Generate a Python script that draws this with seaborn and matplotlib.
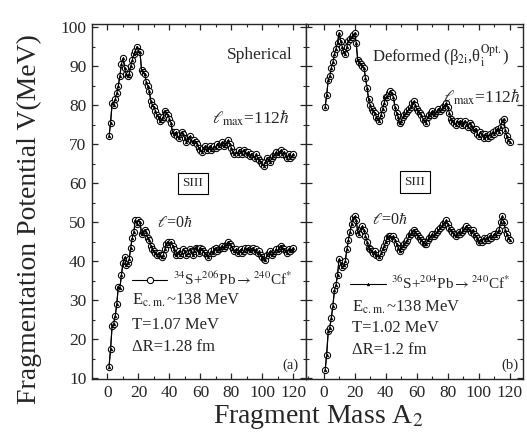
import numpy as np
import matplotlib
matplotlib.use("Agg")
import matplotlib.pyplot as plt
from matplotlib.ticker import MultipleLocator
import seaborn as sns

# fragment mass A2 (every mass from 1 to 120)
mass = np.arange(1, 121)

# spherical, l_max = 112 hbar
sph_lmax = [72, 75.5, 80.5, 80, 81.5, 83, 85, 87.5, 90.5, 92,
            89.5, 88, 87.5, 88, 90, 91.5, 93, 94, 95, 94,
            93.5, 89, 88.5, 88, 86, 85, 83.5, 81, 80, 79.5,
            78.5, 77.5, 77, 76, 76.5, 77, 78.5, 78, 77.5, 76.5,
            75.5, 73, 72.5, 73, 72, 71.5, 72.5, 73, 72.5, 71.5,
            70.5, 71.5, 72, 71, 70.5, 71, 70.5, 70, 69, 68.5,
            68, 69, 69.5, 68.5, 69, 69.5, 68.5, 69, 69.5, 69,
            70, 69.5, 70, 70.5, 69.5, 70, 70.5, 71, 70, 69,
            68, 67.5, 68, 67.5, 68.5, 68, 67.5, 68.5, 68, 67.5,
            68, 67, 67.5, 67, 66.5, 67.5, 66.5, 66, 65.5, 65,
            64.5, 65.5, 66.5, 66, 65.5, 66.5, 67, 67.5, 68, 67.5,
            68, 68.5, 67.5, 68, 67, 66.5, 67.5, 66.5, 67, 67.5]

# spherical, l = 0
sph_l0 = [13, 17.5, 23.5, 24, 26, 29, 33.5, 33, 36.5, 39.5,
          41, 39, 39.5, 40.5, 43.5, 46, 47.5, 50.5, 49.5, 50.5,
          50, 47, 47.5, 48, 47.5, 46, 45.5, 44, 43, 42.5,
          42, 41.5, 42, 41.5, 41, 41.5, 43, 44.5, 45, 44.5,
          45, 44, 43, 41.5, 42, 42.5, 41.5, 42, 43, 42.5,
          41.5, 42, 43, 42.5, 41.5, 42.5, 43.5, 43, 42, 43.5,
          43, 42.5, 42, 41.5, 41, 42, 42.5, 42, 43, 43.5,
          42.5, 43, 43.5, 44, 43.5, 44, 44.5, 45, 44.5, 44,
          43, 42.5, 43, 42, 42.5, 43, 42, 42.5, 43.5, 43,
          43.5, 42.5, 43, 43.5, 42.5, 43, 42, 42.5, 41.5, 41,
          40.5, 40.2, 41.5, 42, 42.5, 41.5, 42, 42.5, 43, 42.5,
          43.5, 44, 43.5, 43, 42.5, 42, 43, 42.5, 43, 43.5]

# deformed, l_max = 112 hbar
def_lmax = [79.5, 82.5, 86.5, 87.5, 89.5, 91, 93, 94.5, 96, 98.5,
            96.5, 95, 93.5, 93, 95, 96.5, 97, 97.5, 98, 98.5,
            96, 91.5, 91, 90.5, 90, 89.5, 87, 84.5, 81.5, 80,
            79, 78.5, 78, 77, 76.5, 76, 77.5, 79, 80.5, 82,
            82, 83, 83.5, 83, 82, 79.5, 78, 77, 75.5, 76,
            77, 77.5, 78, 78.5, 79, 79.5, 80.5, 81, 80, 79,
            78.5, 78, 77.5, 76.5, 76, 75.5, 77, 77.5, 78, 78.5,
            77.5, 78, 78.5, 79, 78.5, 79, 79.5, 80, 80.5, 79.5,
            78, 76.5, 76, 75.5, 75, 76, 75.5, 76, 75, 75.5,
            76, 75, 74.5, 75.5, 75, 74, 73.5, 74, 72.5, 72,
            73, 72.5, 71.5, 72.5, 72, 71.5, 72.5, 72, 73, 72.5,
            73.5, 74, 73, 74.5, 76, 76.5, 73.5, 72, 71, 70.5]

# deformed, l = 0
def_l0 = [12, 16, 22, 23, 25.5, 28.5, 32.5, 34, 36.5, 40.5,
          39.5, 38.5, 39, 40, 43, 45.5, 47.5, 49.5, 51, 51.5,
          50.5, 47.5, 47, 48.5, 49, 48, 46.5, 45, 43.5, 43,
          42.5, 42, 42.5, 41.5, 41.5, 41, 42, 43, 44, 45,
          46, 46.5, 46.5, 46, 46.5, 45.5, 44.5, 43.5, 42.5, 43.5,
          44, 44.5, 45, 45.5, 46.5, 47, 47.5, 48, 47.5, 47,
          46.5, 46, 45.5, 45, 44.5, 44.5, 45.5, 46, 46.5, 47,
          46.5, 47, 47.5, 48, 48.5, 49, 49.5, 50, 50.5, 49.5,
          48.5, 48, 47.5, 47, 46.5, 47, 47.5, 47, 47.5, 48,
          48.5, 49, 48.5, 48, 47.5, 48, 47, 46.5, 46, 45,
          45.5, 45, 46, 45.5, 46, 45.5, 46.5, 46, 46.5, 47,
          46.5, 47.5, 48, 50, 51.5, 50, 48, 47, 46, 45.5]

x_ticks = [0, 20, 40, 60, 80, 100, 120]
y_ticks = [10, 20, 30, 40, 50, 60, 70, 80, 90, 100]

sns.set_style("ticks")
plt.rcParams['font.family'] = ['Liberation Serif', 'DejaVu Serif']
plt.rcParams['mathtext.fontset'] = 'stix'

fig = plt.figure(figsize=(5.27, 4.41), dpi=100)
ax_a = fig.add_axes([92 / 527, 1 - 379 / 441, 214 / 527, 355 / 441])
ax_b = fig.add_axes([306 / 527, 1 - 379 / 441, 217 / 527, 355 / 441])


def draw_curve(ax, values):
    """open circles on a line, small filled triangles on top"""
    sns.lineplot(x=mass, y=values, ax=ax, color='black', lw=0.8,
                 marker='o', markersize=4.5, markerfacecolor='white',
                 markeredgecolor='black', markeredgewidth=0.75)
    circ = ax.lines[-1]
    sns.lineplot(x=mass, y=values, ax=ax, color='black', lw=0.8,
                 marker='^', markersize=2.0, markerfacecolor='black',
                 markeredgecolor='black', markeredgewidth=0.4)
    tri = ax.lines[-1]
    return circ, tri


circ_a, _ = draw_curve(ax_a, sph_lmax)
draw_curve(ax_a, sph_l0)
_, tri_b = draw_curve(ax_b, def_lmax)
draw_curve(ax_b, def_l0)

for ax, xlim in [(ax_a, (-10, 128.2)), (ax_b, (-11.3, 128.4))]:
    ax.set_xlim(*xlim)
    ax.set_ylim(9.8, 100.8)
    ax.set_xticks(x_ticks)
    ax.set_yticks(y_ticks)
    ax.xaxis.set_minor_locator(MultipleLocator(10))
    ax.yaxis.set_minor_locator(MultipleLocator(5))
    ax.tick_params(which='both', direction='in', top=True, right=True,
                   labelsize=12.5, pad=4)
    ax.tick_params(which='major', length=4, width=0.9)
    ax.tick_params(which='minor', length=2.2, width=0.8)
    for sp in ax.spines.values():
        sp.set_linewidth(1.0)
    ax.set_xlabel('')
    ax.set_ylabel('')
ax_b.tick_params(labelleft=False)

# panel (a) texts
ax_a.text(98.5, 92.8, 'Spherical', fontsize=12.5, ha='center', va='center')
ax_a.text(67.5, 76.5, r'$\ell_{\rm max}$=112$\hbar$', fontsize=12.5, ha='left', va='center')
ax_a.text(55, 60, 'SIII', fontsize=9.5, ha='center', va='center',
          bbox=dict(boxstyle='square,pad=0.35', fc='white', ec='black', lw=0.8))
ax_a.text(32, 49.7, r'$\ell$=0$\hbar$', fontsize=11.5, ha='left', va='center')
ax_a.text(16, 30, r'E$_{\rm c.m.}$~138 MeV', fontsize=12, ha='left', va='center')
ax_a.text(16, 23.6, 'T=1.07 MeV', fontsize=12, ha='left', va='center')
ax_a.text(16, 18, 'ΔR=1.28 fm', fontsize=12, ha='left', va='center')
ax_a.text(118, 13.3, '(a)', fontsize=10.5, ha='center', va='center')
ax_a.legend(handles=[circ_a],
            labels=[r'$^{34}$S+$^{206}$Pb$\rightarrow$$^{240}$Cf$^{*}$'],
            loc='center left', bbox_to_anchor=(0.187, 0.281), frameon=False,
            borderpad=0, borderaxespad=0, handlelength=2.3, handletextpad=0.35,
            fontsize=11)

# panel (b) texts
ax_b.text(31.2, 92.8, r'Deformed (β$_{\rm 2i}$,θ$_{\rm i}^{\rm Opt.}$)', fontsize=12,
          ha='left', va='center')
ax_b.text(76.9, 82, r'$\ell_{\rm max}$=112$\hbar$', fontsize=12.5, ha='left', va='center')
ax_b.text(58.9, 60.3, 'SIII', fontsize=9.5, ha='center', va='center',
          bbox=dict(boxstyle='square,pad=0.35', fc='white', ec='black', lw=0.8))
ax_b.text(31.2, 50.5, r'$\ell$=0$\hbar$', fontsize=11.5, ha='left', va='center')
ax_b.text(18.3, 28.3, r'E$_{\rm c.m.}$~138 MeV', fontsize=12, ha='left', va='center')
ax_b.text(18.3, 22.8, 'T=1.02 MeV', fontsize=12, ha='left', va='center')
ax_b.text(18.3, 17.2, 'ΔR=1.2 fm', fontsize=12, ha='left', va='center')
ax_b.text(120, 13.3, '(b)', fontsize=10.5, ha='center', va='center')
ax_b.legend(handles=[tri_b],
            labels=[r'$^{36}$S+$^{204}$Pb$\rightarrow$$^{240}$Cf$^{*}$'],
            loc='center left', bbox_to_anchor=(0.205, 0.269), frameon=False,
            borderpad=0, borderaxespad=0, handlelength=2.3, handletextpad=0.35,
            fontsize=11)

fig.text(0.055, 0.503, 'Fragmentation Potential V(MeV)', fontsize=20,
         rotation=90, ha='center', va='center')
fig.text(318 / 527, 0.055, r'Fragment Mass A$_2$', fontsize=20, ha='center', va='center')

fig.savefig('out.png', dpi=100)
